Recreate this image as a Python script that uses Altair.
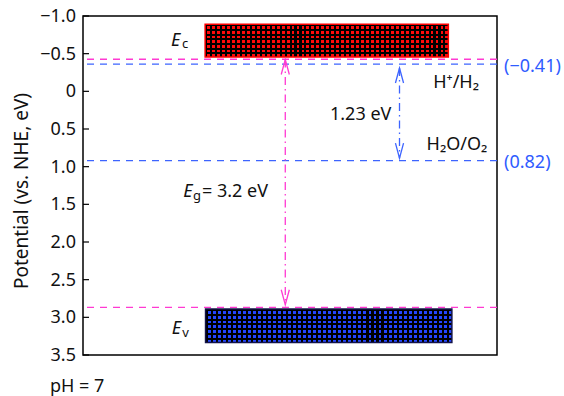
import altair as alt
import pandas as pd

# ---------------- data ----------------
y_ticks = [-1.0, -0.5, 0.0, 0.5, 1.0, 1.5, 2.0, 2.5, 3.0, 3.5]
y_title = "Potential (vs. NHE, eV)"

# band boxes (conduction / valence band)
band_x0 = [0.295, 0.296]
band_x1 = [0.8825, 0.891]
band_y0 = [-0.89, 2.89]
band_y1 = [-0.456, 3.333]
band_fill = ["#ff0a0a", "#2446ff"]
band_stroke = ["#ff0000", "#14144a"]

# horizontal dashed levels
level_y = [-0.426, -0.36, 0.919, 2.869]
level_color = ["#ff3ad2", "#3d64ff", "#3d64ff", "#ff3ad2"]

# vertical double arrows
arrow_x = [0.4886, 0.7645]
arrow_top = [-0.423, -0.31]
arrow_bottom = [2.833, 0.887]
arrow_color = ["#ff3ad2", "#3d64ff"]

# annotation texts
reg_text = ["= 3.2 eV", "1.23 eV", "H\u207a/H\u2082", "H\u2082O/O\u2082", "pH = 7"]
reg_x = [0.2875, 0.5966, 0.846, 0.830, -0.0797]
reg_y = [1.4045, 0.379, -0.041, 0.777, 3.99]

blue_text = ["(\u22120.41)", "(0.82)"]
blue_x = [1.017, 1.017]
blue_y = [-0.2533, 1.02]

e_x = [0.2126, 0.2142, 0.2423]
e_y = [-0.602, 3.2175, 1.4045]
sub_text = ["c", "v", "g"]
sub_x = [0.239, 0.240, 0.2657]
sub_y = [-0.569, 3.257, 1.447]

FONT = "Noto Sans"
W, H = 414, 339

xs = alt.Scale(domain=[0, 1])
ys = alt.Scale(domain=[-1.0, 3.5], reverse=True, nice=False, zero=False)


def X(f):
    return alt.X(f, type="quantitative", scale=xs, axis=None)


def Y(f):
    return alt.Y(f, type="quantitative", scale=ys, axis=None)


def stripes(n, frac, vertical_lines):
    stops = []
    for i in range(n):
        a = i / n
        b = (i + frac) / n
        c = (i + 1) / n
        stops += [
            alt.GradientStop(color="#000000", offset=round(a, 5)),
            alt.GradientStop(color="#000000", offset=round(b, 5)),
            alt.GradientStop(color="rgba(0,0,0,0)", offset=round(b, 5)),
            alt.GradientStop(color="rgba(0,0,0,0)", offset=round(c, 5)),
        ]
    if vertical_lines:
        return alt.Gradient(gradient="linear", stops=stops, x1=0, x2=1, y1=0, y2=0)
    return alt.Gradient(gradient="linear", stops=stops, x1=0, x2=0, y1=0, y2=1)


# ---------------- y axis: inward ticks, labels, title ----------------
tick_df = pd.DataFrame({"v": y_ticks})
tick_marks = alt.Chart(tick_df).mark_rule(color="black", strokeWidth=1.2).encode(
    x=alt.value(0), x2=alt.value(6), y=Y("v")
)
tick_labels = alt.Chart(tick_df).transform_calculate(
    lab="datum.v == 0 ? '0' : replace(format(datum.v, '.1f'), '-', '\u2212')"
).mark_text(
    font=FONT, fontSize=18, color="#111111", align="right", baseline="middle", dx=-7, dy=1
).encode(x=alt.value(0), y=Y("v"), text="lab:N")

title_text = alt.Chart(pd.DataFrame({"t": [y_title]})).mark_text(
    font=FONT, fontSize=19, color="#111111", angle=270, align="center", baseline="middle"
).encode(x=alt.value(-61.5), y=alt.value(175), text="t:N")

# ---------------- band boxes ----------------
band_layers = []
for i in range(2):
    df = pd.DataFrame({"x0": [band_x0[i]], "x1": [band_x1[i]],
                       "y0": [band_y0[i]], "y1": [band_y1[i]]})
    enc = dict(x=X("x0"), x2="x1", y=Y("y0"), y2="y1")
    base = alt.Chart(df).mark_rect(fill=band_fill[i], strokeWidth=0).encode(**enc)
    v = alt.Chart(df).mark_rect(fill=stripes(49, 0.42, True), strokeWidth=0).encode(**enc)
    h = alt.Chart(df).mark_rect(fill=stripes(7, 0.42, False), strokeWidth=0).encode(**enc)
    border = alt.Chart(df).mark_rect(fillOpacity=0, fill="white", stroke=band_stroke[i],
                                     strokeWidth=1.5).encode(**enc)
    band_layers += [base, v, h, border]

# ---------------- dashed levels ----------------
lvl_df = pd.DataFrame({"y": level_y, "c": level_color})
levels = alt.Chart(lvl_df).mark_rule(strokeDash=[7, 6], strokeWidth=1.3).encode(
    y=Y("y"), color=alt.Color("c:N", scale=None)
)

# ---------------- arrows ----------------
arr_df = pd.DataFrame({"x": arrow_x, "t": arrow_top, "b": arrow_bottom, "c": arrow_color})
arrow_lines = alt.Chart(arr_df).mark_rule(strokeDash=[8, 4, 1.5, 4], strokeWidth=1.3).encode(
    x=X("x"), y=Y("t"), y2="b", color=alt.Color("c:N", scale=None)
)
head_rows = []
for i in range(2):
    head_rows.append({"x": arrow_x[i], "y": arrow_top[i], "c": arrow_color[i],
                      "s": "M -0.27 1 L 0 0 L 0.27 1"})
    head_rows.append({"x": arrow_x[i], "y": arrow_bottom[i], "c": arrow_color[i],
                      "s": "M -0.27 -1 L 0 0 L 0.27 -1"})
heads = alt.Chart(pd.DataFrame(head_rows)).mark_point(filled=False, size=900, strokeWidth=1.3,
                                                      opacity=1).encode(
    x=X("x"), y=Y("y"),
    shape=alt.Shape("s:N", scale=None),
    color=alt.Color("c:N", scale=None),
)

# ---------------- texts ----------------
reg = alt.Chart(pd.DataFrame({"x": reg_x, "y": reg_y, "t": reg_text})).mark_text(
    font=FONT, fontSize=18, color="#111111", align="left", baseline="alphabetic"
).encode(x=X("x"), y=Y("y"), text="t:N")

blue = alt.Chart(pd.DataFrame({"x": blue_x, "y": blue_y, "t": blue_text})).mark_text(
    font=FONT, fontSize=18, color="#2f5cff", align="left", baseline="alphabetic"
).encode(x=X("x"), y=Y("y"), text="t:N")

ee = alt.Chart(pd.DataFrame({"x": e_x, "y": e_y, "t": ["E"] * 3})).mark_text(
    font=FONT, fontSize=18, fontStyle="italic", color="#111111", align="left",
    baseline="alphabetic"
).encode(x=X("x"), y=Y("y"), text="t:N")

subs = alt.Chart(pd.DataFrame({"x": sub_x, "y": sub_y, "t": sub_text})).mark_text(
    font=FONT, fontSize=13, color="#111111", align="left", baseline="alphabetic"
).encode(x=X("x"), y=Y("y"), text="t:N")

chart = alt.layer(
    levels, *band_layers, arrow_lines, heads, tick_marks, tick_labels, title_text,
    reg, blue, ee, subs
).properties(
    width=W, height=H,
    autosize=alt.AutoSizeParams(type="none"),
    padding={"left": 83, "top": 16, "right": 67, "bottom": 41},
    background="white",
).configure_view(stroke="black", strokeWidth=1.5)

chart.save("out.html", embed_options={"renderer": "svg", "actions": False})
